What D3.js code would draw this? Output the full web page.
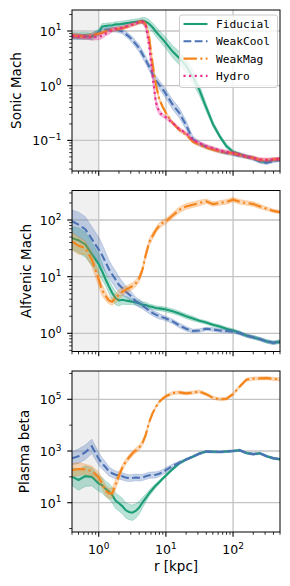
<!DOCTYPE html>
<html>
<head>
<meta charset="utf-8">
<script src="https://cdn.jsdelivr.net/npm/d3@7"></script>
<style>
  body { margin: 0; background: #fff; }
  text { font-family: "DejaVu Sans", sans-serif; fill: #000; }
</style>
</head>
<body>
<script>
// radius grid, kpc
var radius = [0.4, 0.5, 0.63, 0.79, 1, 1.12, 1.26, 1.41, 1.58, 1.78, 2, 2.24, 2.51, 2.82, 3.16, 3.55, 3.98, 4.47, 5.01, 5.62, 6.31, 7.08, 7.94, 8.91, 10,
  12.6, 15.8, 20, 25.1, 31.6, 39.8, 50.1, 63.1, 79.4, 100, 126, 158, 200, 251, 316, 398, 500];

var runNames = ["Fiducial", "WeakCool", "WeakMag", "Hydro"];
var runColors = ["#1b9e77", "#4a72b5", "#f5851a", "#e7298a"];
var runDashes = [null, "7.8,3.4", "13.4,3.4,2.1,3.4", "2.1,3.5"];

// Sonic Mach
var sonicFiducial = [8.3, 8.1, 8.3, 7.9, 9.5, 12.0, 12.3, 12.6, 12.6, 13.2, 13.2, 13.5, 13.8, 14.1, 14.5, 14.8, 15.1, 15.5, 14.8, 13.5, 11.7, 9.8, 8.3, 7.1, 6.0,
  4.2, 3.2, 2.3, 1.48, 0.83, 0.40, 0.20, 0.12, 0.079, 0.062, 0.056, 0.051, 0.048, 0.042, 0.040, 0.044, 0.045];
var sonicWeakCool = [7.9, 7.9, 7.8, 8.3, 9.3, 10.0, 10.5, 10.7, 10.5, 10.5, 10.2, 9.8, 8.9, 7.9, 6.9, 5.8, 4.9, 3.8, 2.95, 2.24, 1.66, 1.26, 1.05, 0.87, 0.71,
  0.45, 0.32, 0.19, 0.105, 0.087, 0.076, 0.069, 0.063, 0.059, 0.056, 0.052, 0.050, 0.046, 0.041, 0.039, 0.042, 0.044];
var sonicWeakMag = [8.3, 8.1, 7.9, 8.3, 8.9, 9.3, 9.8, 10.2, 10.5, 10.7, 11.0, 11.2, 11.7, 12.3, 12.9, 13.5, 14.5, 14.8, 13.2, 7.9, 2.63, 1.05, 0.575, 0.417, 0.316,
  0.209, 0.155, 0.129, 0.095, 0.083, 0.074, 0.068, 0.063, 0.060, 0.058, 0.054, 0.050, 0.048, 0.044, 0.044, 0.045, 0.046];
var sonicHydro = [8.1, 7.9, 7.8, 7.6, 7.8, 8.1, 8.9, 9.5, 10.5, 11.0, 11.2, 11.5, 12.0, 12.6, 13.2, 13.8, 14.5, 14.8, 12.6, 5.6, 1.58, 0.50, 0.331, 0.288, 0.263,
  0.209, 0.162, 0.135, 0.102, 0.089, 0.079, 0.072, 0.066, 0.062, 0.059, 0.055, 0.051, 0.048, 0.045, 0.044, 0.045, 0.046];
// half widths of the shaded bands, dex
var sonicFiducialSpread = [0.06, 0.06, 0.06, 0.06, 0.06, 0.06, 0.05, 0.05, 0.05, 0.05, 0.05, 0.05, 0.05, 0.05, 0.05, 0.05, 0.05, 0.06, 0.07, 0.08, 0.08, 0.09, 0.09, 0.10, 0.10,
  0.11, 0.12, 0.12, 0.12, 0.10, 0.07, 0.05, 0.04, 0.04, 0.03, 0.03, 0.03, 0.03, 0.03, 0.03, 0.03, 0.03];
var sonicWeakCoolSpread = [0.05, 0.05, 0.05, 0.05, 0.04, 0.04, 0.04, 0.04, 0.04, 0.04, 0.04, 0.04, 0.05, 0.05, 0.06, 0.06, 0.07, 0.07, 0.07, 0.07, 0.07, 0.08, 0.08, 0.08, 0.08,
  0.09, 0.09, 0.08, 0.06, 0.04, 0.03, 0.03, 0.03, 0.03, 0.03, 0.03, 0.03, 0.03, 0.03, 0.03, 0.03, 0.03];
var sonicWeakMagSpread = [0.04, 0.04, 0.04, 0.04, 0.03, 0.03, 0.03, 0.03, 0.03, 0.03, 0.03, 0.03, 0.03, 0.03, 0.03, 0.03, 0.03, 0.03, 0.05, 0.08, 0.08, 0.06, 0.04, 0.03, 0.03,
  0.03, 0.03, 0.03, 0.03, 0.03, 0.03, 0.03, 0.03, 0.03, 0.03, 0.03, 0.03, 0.03, 0.03, 0.03, 0.03, 0.03];
var sonicHydroSpread = [0.04, 0.04, 0.04, 0.05, 0.05, 0.05, 0.04, 0.04, 0.04, 0.03, 0.03, 0.03, 0.03, 0.03, 0.03, 0.03, 0.03, 0.03, 0.06, 0.10, 0.10, 0.08, 0.05, 0.03, 0.03,
  0.03, 0.03, 0.03, 0.03, 0.03, 0.03, 0.03, 0.03, 0.03, 0.03, 0.03, 0.03, 0.03, 0.03, 0.03, 0.03, 0.03];

// Alfvenic Mach
var alfvenFiducial = [48, 44, 37, 25, 16.6, 12.6, 9.1, 6.8, 5.2, 4.2, 3.8, 3.9, 3.8, 3.7, 3.6, 3.5, 3.4, 3.2, 3.16, 3.0, 2.9, 2.8, 2.75, 2.7, 2.63,
  2.45, 2.24, 2.0, 1.82, 1.66, 1.55, 1.41, 1.32, 1.20, 1.12, 1.02, 0.91, 0.85, 0.79, 0.72, 0.68, 0.71];
var alfvenWeakCool = [95, 83, 69, 46, 30, 24, 18.2, 13.8, 11.0, 8.9, 7.2, 6.3, 5.5, 4.9, 4.3, 3.7, 3.4, 3.1, 2.8, 2.5, 2.3, 2.14, 2.0, 1.91, 1.82,
  1.62, 1.38, 1.20, 1.10, 1.12, 1.20, 1.17, 1.12, 1.10, 1.07, 1.0, 0.91, 0.85, 0.79, 0.72, 0.68, 0.71];
var alfvenWeakMag = [42, 35, 32, 20, 8.9, 5.8, 4.6, 3.8, 3.6, 4.2, 4.8, 5.4, 5.9, 6.3, 6.8, 7.6, 9.1, 13.2, 24, 40, 52, 66, 79, 89, 95,
  120, 151, 174, 186, 200, 214, 191, 200, 209, 229, 209, 200, 191, 174, 158, 145, 138];
var alfvenFiducialSpread = [0.20, 0.22, 0.22, 0.20, 0.18, 0.15, 0.12, 0.12, 0.12, 0.12, 0.10, 0.08, 0.07, 0.06, 0.05, 0.05, 0.05, 0.05, 0.05, 0.04, 0.04, 0.04, 0.04, 0.04, 0.04,
  0.04, 0.04, 0.04, 0.04, 0.03, 0.03, 0.03, 0.03, 0.03, 0.03, 0.03, 0.03, 0.03, 0.03, 0.03, 0.03, 0.03];
var alfvenWeakCoolSpread = [0.20, 0.22, 0.22, 0.22, 0.22, 0.20, 0.18, 0.16, 0.15, 0.15, 0.14, 0.12, 0.10, 0.09, 0.08, 0.07, 0.07, 0.06, 0.06, 0.05, 0.05, 0.05, 0.05, 0.04, 0.04,
  0.04, 0.04, 0.04, 0.03, 0.03, 0.03, 0.03, 0.03, 0.03, 0.03, 0.03, 0.03, 0.03, 0.03, 0.03, 0.03, 0.03];
var alfvenWeakMagSpread = [0.15, 0.15, 0.12, 0.12, 0.12, 0.10, 0.08, 0.06, 0.06, 0.08, 0.08, 0.07, 0.06, 0.06, 0.06, 0.06, 0.06, 0.06, 0.06, 0.06, 0.06, 0.05, 0.05, 0.05, 0.05,
  0.05, 0.05, 0.05, 0.05, 0.05, 0.04, 0.04, 0.04, 0.04, 0.04, 0.04, 0.04, 0.04, 0.04, 0.03, 0.03, 0.03];

// Plasma beta
var betaFiducial = [102, 76, 107, 100, 55, 48, 35, 28, 20, 12.0, 9.5, 7.4, 5.2, 4.4, 4.1, 4.8, 6.3, 10, 15.1, 23, 33, 46, 62, 85, 112,
  200, 331, 468, 603, 794, 955, 933, 912, 955, 1000, 1070, 832, 759, 813, 631, 525, 479];
var betaWeakCool = [525, 631, 891, 1510, 501, 331, 240, 166, 138, 120, 112, 105, 95, 89, 91, 95, 93, 95, 105, 115, 117, 120, 132, 151, 182,
  263, 355, 468, 603, 794, 955, 933, 912, 955, 1000, 1070, 832, 759, 813, 631, 525, 479];
var betaWeakMag = [182, 200, 195, 166, 95, 56, 30, 23, 23, 50, 112, 224, 380, 562, 794, 1050, 1320, 2000, 4170, 12600, 28200, 50100, 79400, 105000, 132000,
  174000, 186000, 170000, 182000, 200000, 158000, 115000, 100000, 105000, 158000, 316000, 575000, 631000, 646000, 661000, 617000, 589000];
var betaFiducialSpread = [0.35, 0.40, 0.40, 0.35, 0.30, 0.30, 0.30, 0.30, 0.30, 0.30, 0.30, 0.30, 0.30, 0.30, 0.30, 0.28, 0.25, 0.20, 0.15, 0.12, 0.10, 0.08, 0.07, 0.06, 0.06,
  0.05, 0.05, 0.04, 0.04, 0.04, 0.04, 0.04, 0.04, 0.04, 0.04, 0.04, 0.04, 0.04, 0.04, 0.04, 0.04, 0.04];
var betaWeakCoolSpread = [0.25, 0.28, 0.28, 0.28, 0.25, 0.22, 0.20, 0.18, 0.16, 0.15, 0.14, 0.14, 0.14, 0.13, 0.13, 0.13, 0.13, 0.12, 0.12, 0.12, 0.12, 0.12, 0.11, 0.10, 0.10,
  0.08, 0.06, 0.04, 0.04, 0.04, 0.04, 0.04, 0.04, 0.04, 0.04, 0.04, 0.04, 0.04, 0.04, 0.04, 0.04, 0.04];
var betaWeakMagSpread = [0.25, 0.25, 0.20, 0.20, 0.20, 0.20, 0.20, 0.20, 0.20, 0.20, 0.15, 0.12, 0.10, 0.10, 0.10, 0.10, 0.10, 0.10, 0.10, 0.08, 0.06, 0.06, 0.06, 0.06, 0.06,
  0.06, 0.06, 0.06, 0.06, 0.06, 0.06, 0.06, 0.06, 0.06, 0.06, 0.06, 0.06, 0.06, 0.06, 0.06, 0.06, 0.06];

// tick values
var xTicks = [1, 10, 100];
var sonicTicks = [0.1, 1, 10];
var alfvenTicks = [1, 10, 100];
var betaTicks = [10, 1e3, 1e5];
var betaMinorTicks = [1, 100, 1e4, 1e6];
var innerRadius = 1; // shaded region r < 1 kpc

var W = 290, H = 586;
var left = 72, right = 280;
var svg = d3.select("body").append("svg").attr("width", W).attr("height", H);

var x = d3.scaleLog().domain([0.4, 500]).range([left, right]);

var panels = [
  { top: 10, bottom: 171, domain: [0.0276, 24.2], ticks: sonicTicks, label: "Sonic Mach", labelX: 20.5,
    series: [[sonicFiducial, sonicFiducialSpread, 0], [sonicWeakCool, sonicWeakCoolSpread, 1], [sonicWeakMag, sonicWeakMagSpread, 2], [sonicHydro, sonicHydroSpread, 3]] },
  { top: 190.5, bottom: 351.5, domain: [0.477, 332], ticks: alfvenTicks, label: "Alfvenic Mach", labelX: 30.5,
    series: [[alfvenFiducial, alfvenFiducialSpread, 0], [alfvenWeakCool, alfvenWeakCoolSpread, 1], [alfvenWeakMag, alfvenWeakMagSpread, 2]] },
  { top: 371, bottom: 532, domain: [0.736, 1.245e6], ticks: betaTicks, minor: betaMinorTicks, label: "Plasma beta", labelX: 29.3,
    series: [[betaFiducial, betaFiducialSpread, 0], [betaWeakCool, betaWeakCoolSpread, 1], [betaWeakMag, betaWeakMagSpread, 2]] }
];

function sup(sel, v) {
  var e = Math.round(Math.log10(v));
  sel.append("tspan").text("10");
  sel.append("tspan").attr("dy", -5.5).attr("font-size", 9).text(String(e).replace("-", "\u2212"));
}

panels.forEach(function (p, pi) {
  var y = d3.scaleLog().domain(p.domain).range([p.bottom, p.top]);
  var g = svg.append("g");
  var clipId = "clip" + pi;
  svg.append("clipPath").attr("id", clipId).append("rect")
    .attr("x", left).attr("y", p.top).attr("width", right - left).attr("height", p.bottom - p.top);

  // inner region shading
  g.append("rect")
    .attr("x", left).attr("y", p.top)
    .attr("width", x(innerRadius) - left).attr("height", p.bottom - p.top)
    .style("fill", "#f0f0f0");

  // grid
  g.selectAll(".gx").data(xTicks).enter().append("line")
    .attr("x1", function (d) { return x(d); }).attr("x2", function (d) { return x(d); })
    .attr("y1", p.top).attr("y2", p.bottom)
    .style("stroke", "#c4c4c4").style("stroke-width", 1.3);
  g.selectAll(".gy").data(p.ticks).enter().append("line")
    .attr("x1", left).attr("x2", right)
    .attr("y1", function (d) { return y(d); }).attr("y2", function (d) { return y(d); })
    .style("stroke", "#c4c4c4").style("stroke-width", 1.3);

  var plot = g.append("g").attr("clip-path", "url(#" + clipId + ")");
  p.series.forEach(function (s) {
    var vals = s[0], spread = s[1], k = s[2];
    var pts = radius.map(function (r, i) { return { r: r, v: vals[i], s: spread[i] }; });
    var area = d3.area()
      .x(function (d) { return x(d.r); })
      .y0(function (d) { return y(d.v / Math.pow(10, d.s)); })
      .y1(function (d) { return y(d.v * Math.pow(10, d.s)); });
    plot.append("path").attr("d", area(pts))
      .style("fill", runColors[k]).style("fill-opacity", 0.3)
      .style("stroke", runColors[k]).style("stroke-opacity", 0.25).style("stroke-width", 1);
    var line = d3.line().x(function (d) { return x(d.r); }).y(function (d) { return y(d.v); });
    plot.append("path").attr("d", line(pts))
      .style("fill", "none").style("stroke", runColors[k]).style("stroke-width", 2.1)
      .style("stroke-dasharray", runDashes[k]);
  });

  // frame
  g.append("rect").attr("x", left).attr("y", p.top)
    .attr("width", right - left).attr("height", p.bottom - p.top)
    .style("fill", "none").style("stroke", "#000").style("stroke-width", 1);

  // x ticks
  var xMinor = x.ticks().filter(function (d) { return xTicks.indexOf(d) < 0; });
  g.selectAll(".xt").data(xTicks).enter().append("line")
    .attr("x1", function (d) { return x(d); }).attr("x2", function (d) { return x(d); })
    .attr("y1", p.bottom).attr("y2", p.bottom + 4.8)
    .style("stroke", "#000").style("stroke-width", 1.1);
  g.selectAll(".xm").data(xMinor).enter().append("line")
    .attr("x1", function (d) { return x(d); }).attr("x2", function (d) { return x(d); })
    .attr("y1", p.bottom).attr("y2", p.bottom + 2.8)
    .style("stroke", "#000").style("stroke-width", 0.8);

  // y ticks
  var yMinor = p.minor ? p.minor : y.ticks().filter(function (d) {
    return p.ticks.every(function (t) { return Math.abs(t - d) / t > 1e-6; });
  });
  yMinor = yMinor.filter(function (d) { return d >= p.domain[0] && d <= p.domain[1]; });
  g.selectAll(".yt").data(p.ticks).enter().append("line")
    .attr("x1", left - 4.8).attr("x2", left)
    .attr("y1", function (d) { return y(d); }).attr("y2", function (d) { return y(d); })
    .style("stroke", "#000").style("stroke-width", 1.1);
  g.selectAll(".ym").data(yMinor).enter().append("line")
    .attr("x1", left - 2.8).attr("x2", left)
    .attr("y1", function (d) { return y(d); }).attr("y2", function (d) { return y(d); })
    .style("stroke", "#000").style("stroke-width", 0.8);
  p.ticks.forEach(function (t) {
    var tx = g.append("text").attr("x", 61.5).attr("y", y(t) + 5)
      .attr("text-anchor", "end").attr("font-size", 12.5);
    sup(tx, t);
  });

  g.append("text")
    .attr("transform", "translate(" + p.labelX + "," + ((p.top + p.bottom) / 2) + ") rotate(-90)")
    .attr("text-anchor", "middle").attr("font-size", 13.5).text(p.label);

  if (pi === panels.length - 1) {
    xTicks.forEach(function (t) {
      var tx = g.append("text").attr("x", x(t)).attr("y", 554)
        .attr("text-anchor", "middle").attr("font-size", 12.5);
      sup(tx, t);
    });
    g.append("text").attr("x", (left + right) / 2).attr("y", 571)
      .attr("text-anchor", "middle").attr("font-size", 13.5).text("r [kpc]");
  }
});

// legend
var leg = svg.append("g");
leg.append("rect").attr("x", 179.5).attr("y", 15).attr("width", 98).attr("height", 72.5)
  .attr("rx", 2.5)
  .style("fill", "#fff").style("fill-opacity", 0.8)
  .style("stroke", "#cccccc").style("stroke-width", 1);
runNames.forEach(function (name, k) {
  var ry = 24 + k * 17.3;
  leg.append("line").attr("x1", 183.5).attr("x2", 207.5).attr("y1", ry).attr("y2", ry)
    .style("stroke", runColors[k]).style("stroke-width", 2.1)
    .style("stroke-dasharray", runDashes[k]);
  leg.append("text").attr("x", 216).attr("y", ry + 4)
    .style("font-family", "'DejaVu Sans Mono', monospace").attr("font-size", 11.2)
    .text(name);
});
</script>
</body>
</html>
